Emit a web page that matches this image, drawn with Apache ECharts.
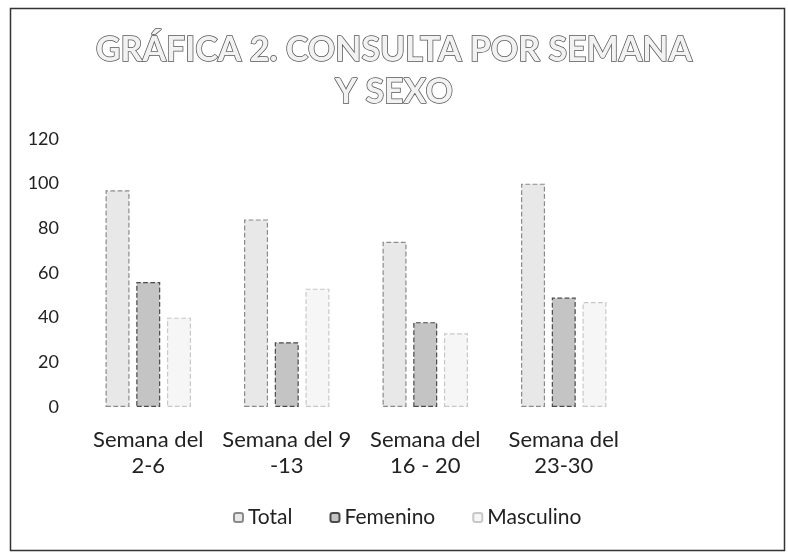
<!DOCTYPE html>
<html>
<head>
<meta charset="utf-8">
<script src="https://cdn.jsdelivr.net/npm/echarts@6/dist/echarts.min.js"></script>
<style>html,body{margin:0;padding:0;background:#fff}#c{width:788px;height:553px}</style>
</head>
<body>
<div id="c"></div>
<script>
const categories = ['Semana del\n2-6', 'Semana del 9\n-13', 'Semana del\n16 - 20', 'Semana del\n23-30'];
const seriesNames = ['Total', 'Femenino', 'Masculino'];
const totalValues = [97, 84, 74, 100];
const femeninoValues = [56, 29, 38, 49];
const masculinoValues = [40, 53, 33, 47];
const yTicks = [0, 20, 40, 60, 80, 100, 120];

const font = 'Lato, "Open Sans", sans-serif';
const chart = echarts.init(document.getElementById('c'), null, {renderer: 'canvas'});
const styles = [
  {color: '#e8e8e8', borderColor: '#8a8a8a'},
  {color: '#c4c4c4', borderColor: '#4a4a4a'},
  {color: '#f6f6f6', borderColor: '#c8c8c8'}
];
const values = [totalValues, femeninoValues, masculinoValues];
chart.setOption({
  animation: false,
  backgroundColor: '#fff',
  graphic: [{
    type: 'rect', left: 8, top: 6, shape: {width: 774, height: 542},
    style: {fill: 'none', stroke: '#333', lineWidth: 1.5}
  }],
  title: {
    text: 'GRÁFICA 2. CONSULTA POR SEMANA\nY SEXO',
    left: 'center', top: 24,
    textStyle: {
      fontFamily: font, fontSize: 34, fontWeight: 'bold', lineHeight: 42,
      color: '#f2f2f2', textBorderColor: '#555', textBorderWidth: 1.5
    }
  },
  legend: {
    bottom: 20, left: 228,
    itemWidth: 9, itemHeight: 9, itemGap: 37,
    textStyle: {fontFamily: font, fontSize: 21, color: '#222'},
    data: seriesNames
  },
  grid: {left: 79, right: 155, top: 139, bottom: 146},
  xAxis: {
    type: 'category', data: categories,
    axisLine: {show: false}, axisTick: {show: false},
    axisLabel: {fontFamily: font, fontSize: 22, color: '#222', lineHeight: 26, margin: 20, interval: 0}
  },
  yAxis: {
    type: 'value', min: 0, max: 120, interval: 20,
    splitLine: {show: false}, axisLine: {show: false}, axisTick: {show: false},
    axisLabel: {fontFamily: font, fontSize: 18, color: '#222', margin: 20,
      formatter: v => yTicks.includes(v) ? String(v) : ''}
  },
  series: seriesNames.map((n, i) => ({
    name: n, type: 'bar', data: values[i],
    barWidth: 24, barGap: '28%',
    itemStyle: {color: styles[i].color, borderColor: styles[i].borderColor, borderWidth: 1.2, borderType: 'dashed'}
  }))
});
</script>
</body>
</html>
